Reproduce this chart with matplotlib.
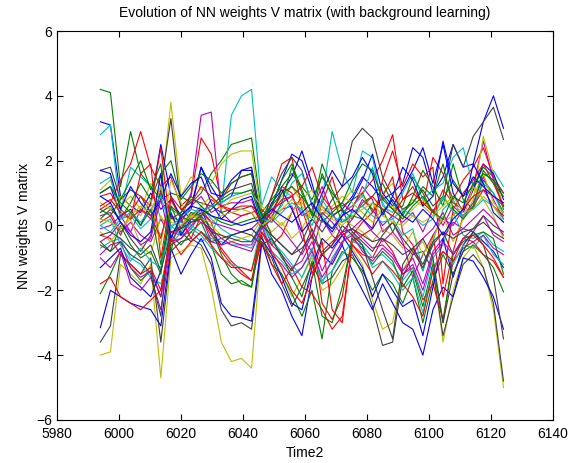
import matplotlib
matplotlib.use('Agg')
import matplotlib.pyplot as plt

plt.rcParams['font.family'] = ['Liberation Sans', 'DejaVu Sans']

time2 = [5994, 5997.25, 6000.5, 6003.75, 6007, 6010.25, 6013.5, 6016.75, 6020, 6023.25,
         6026.5, 6029.75, 6033, 6036.25, 6039.5, 6042.75, 6046, 6049.25, 6052.5, 6055.75,
         6059, 6062.25, 6065.5, 6068.75, 6072, 6075.25, 6078.5, 6081.75, 6085, 6088.25,
         6091.5, 6094.75, 6098, 6101.25, 6104.5, 6107.75, 6111, 6114.25, 6117.5, 6120.75,
         6124]

# weights, one list per V matrix entry
v01 = [3.2, 3.1, 0.9, 0.6, 0.4, 1.0, 0.5, 0.8, 0.3, 0.6, 1.8, 1.2, 0.7, 0.9, 1.7, 1.8, 0.2, 0.6, 1.4, 2.2,
       2.0, 1.1, 0.6, 0.3, 0.5, 0.9, 1.5, 1.2, 0.8, 1.0, 1.3, 2.4, 2.1, 1.0, 1.5, 2.5, 1.8, 1.9, 3.2, 4.0, 3.0]
v02 = [4.2, 4.1, 1.2, 2.9, 1.6, 1.2, 0.8, 1.0, 0.9, 0.7, 1.0, 1.6, 2.0, 2.5, 2.6, 2.7, 0.4, 0.8, 1.2, 1.6,
       1.2, 0.8, 1.5, 1.0, 0.6, 0.8, 1.0, 0.4, 0.9, 0.5, 0.6, 1.5, 1.0, 0.4, 0.8, 1.4, 0.9, 1.2, 1.8, 1.5, 0.5]
v03 = [0.5, 0.7, 1.4, 1.9, 2.9, 1.8, 1.2, 1.5, 0.6, 0.9, 2.7, 2.2, 0.8, 1.3, 1.5, 1.6, 0.0, 0.9, 1.9, 2.1,
       0.5, -0.4, 0.7, 1.5, 0.4, 0.6, 1.0, 1.4, 2.0, 2.8, 0.8, 1.2, 0.6, 2.1, 1.6, 0.8, 1.4, 1.8, 2.4, 1.5, 1.0]
v04 = [2.8, 3.1, 0.4, 1.8, 1.5, 1.2, 0.2, 0.0, -0.3, -0.2, -0.5, -0.3, 0.5, 3.4, 4.0, 4.2, 0.6, 1.5, 1.1, 0.9,
       0.4, 0.2, 0.8, 2.9, 1.7, 1.0, 2.3, 2.1, 0.6, 0.4, 1.0, 1.6, 0.8, 1.1, 1.3, 2.1, 2.4, 1.2, 1.5, 1.7, 1.2]
v05 = [0.3, 0.4, -0.2, 0.1, -0.3, -0.5, 0.2, -0.4, 0.2, 1.0, 3.4, 3.5, 0.4, 0.1, 0.3, 0.4, -0.1, 0.2, 0.5, 0.6,
       -0.4, -0.8, 0.2, -0.3, -0.6, 0.5, 1.2, 0.8, -0.2, 0.1, -0.5, -1.6, -0.9, -0.3, 0.2, 0.0, 0.5, 1.2, 2.6, 1.4, 0.6]
v06 = [-4.0, -3.9, -1.2, -1.5, -1.8, -1.2, -4.7, -1.0, -0.8, -0.6, -0.7, -1.9, -3.6, -4.2, -4.1, -4.4, -0.5, -0.9, -1.5, -2.2,
       -1.6, -1.0, -2.0, -1.8, -1.3, -0.7, -1.2, -2.3, -3.2, -3.0, -1.4, -0.8, -0.5, -1.2, -3.6, -2.0, -1.0, -0.6, -1.3, -2.6, -5.0]
v07 = [-3.6, -3.1, -0.9, -1.2, -1.5, -1.0, -3.6, -0.8, -0.5, -0.4, -0.6, -1.2, -2.6, -3.1, -3.0, -3.2, -0.6, -1.0, -1.8, -2.5,
       -1.9, -1.2, -1.8, -1.6, -1.1, -0.9, -1.5, -2.5, -3.7, -3.6, -1.6, -0.9, -0.8, -1.4, -3.4, -2.2, -1.2, -0.9, -1.3, -2.4, -4.8]
v08 = [-3.15, -2.0, -2.2, -2.4, -2.5, -2.6, -3.1, -0.7, -1.5, -0.9, -0.4, -1.0, -2.4, -2.8, -2.85, -2.95, -0.5, -1.5, -2.0, -2.8,
       -3.4, -1.6, -0.9, -1.2, -0.6, -1.4, -2.0, -2.6, -1.8, -2.4, -3.0, -3.2, -4.0, -2.6, -1.9, -2.2, -1.0, -1.1, -1.6, -2.2, -3.2]
v09 = [-2.1, -1.5, -0.8, -1.3, -1.7, -1.4, -2.2, -0.3, -0.6, -0.2, 0.1, -0.6, -1.5, -1.8, -1.7, -1.9, -0.3, -1.2, -1.5, -2.1,
       -2.8, -2.0, -3.5, -1.4, -0.8, -1.0, -1.4, -2.0, -1.5, -1.8, -2.4, -1.6, -3.0, -1.7, -0.9, -1.5, -0.8, -0.6, -0.9, -1.3, -2.05]
v10 = [-0.3, -0.4, -0.9, -1.2, -1.5, -1.3, -2.0, -0.2, -0.3, 0.1, 0.2, -0.3, -0.7, -1.1, -1.4, -1.7, -0.5, -1.2, -1.8, -1.3,
       -1.9, -2.1, -2.6, -3.2, -2.8, -0.6, -0.9, -1.0, -0.4, -0.8, -1.5, -1.3, -2.3, -1.8, -2.9, -1.1, -0.7, -0.5, -0.9, -1.1, -1.6]
v11 = [-0.7, -0.5, -0.4, -1.0, -1.2, -1.6, -1.8, -0.6, -0.2, 0.3, 0.6, 0.2, -0.1, -0.3, -0.4, -0.5, 0.1, -0.8, -1.1, -1.5,
       -1.3, -0.7, -1.8, -1.0, -0.5, -0.2, -0.6, -1.0, -0.9, -1.2, -1.7, -1.3, -2.2, -1.0, -0.6, 0.4, -0.3, -0.4, -0.2, -0.6, -0.8]
v12 = [-0.9, -0.6, -0.5, -1.3, -1.6, -1.4, -2.2, -0.5, -0.4, -0.1, 0.4, 0.1, 0.0, -0.1, -0.2, -0.1, 0.2, -0.6, -0.9, -1.3,
       -1.1, -0.5, -1.4, -0.8, -0.3, -0.1, -0.4, -0.7, -0.6, -0.9, -1.4, -1.0, -1.8, -0.8, -0.4, 0.1, -0.1, -0.2, 0.3, -0.3, -0.5]
v13 = [1.1, 1.4, 0.6, 0.9, 0.5, 1.3, 0.9, 3.8, 0.9, 1.5, 1.1, 1.3, 1.9, 2.2, 2.3, 2.3, 0.3, 0.5, 0.9, 1.2,
       0.7, 0.3, 0.6, 0.2, 0.7, 1.1, 0.9, 0.5, 1.0, 1.3, 0.4, 0.8, 0.6, 0.3, 0.9, 0.5, 0.2, 0.8, 2.75, 1.6, 0.6]
v14 = [1.7, 1.8, 0.8, 1.1, 0.9, 0.4, 1.2, 3.3, 0.5, 0.2, 0.4, 0.6, 0.9, 1.1, 1.2, 1.3, 0.1, 0.9, 1.6, 2.1,
       1.7, 0.6, 0.3, 0.8, 1.2, 2.6, 3.0, 2.7, 1.5, 0.9, 0.5, 0.7, 1.1, 0.6, 0.9, 2.5, 1.8, 2.75, 3.2, 3.65, 2.65]
v15 = [1.0, 1.2, 0.3, 0.5, 0.0, 0.7, 2.5, 0.9, 0.2, 0.5, 1.8, 1.0, 0.9, 1.4, 1.7, 1.7, 0.0, 0.4, 1.0, 1.5,
       2.3, 1.3, 0.2, -0.2, 0.3, 0.8, 1.4, 2.2, 1.0, 0.6, 1.1, 1.7, 2.4, 1.3, 2.5, 1.0, 0.4, 1.1, 1.9, 1.6, 0.8]
v16 = [0.2, 0.5, 0.2, 0.7, 1.3, 0.8, 1.6, 2.0, 0.8, 1.2, 1.6, 1.4, 1.0, 1.3, 1.5, 1.6, 0.3, 0.1, 0.7, 1.8,
       1.0, 0.4, 1.9, 1.1, 0.5, 0.2, 0.7, 0.9, 1.3, 0.7, 0.3, 0.9, 1.7, 1.2, 0.6, 1.9, 0.8, 0.5, 1.4, 1.0, 0.4]
v17 = [0.1, 0.3, -0.3, 0.4, 0.9, 0.6, 2.4, -0.2, -0.1, 0.3, 0.5, 0.1, -0.8, -1.2, -1.5, -1.7, -0.2, -0.6, -0.3, 0.4,
       0.9, -0.2, -2.4, -2.9, -2.2, -0.3, 0.1, 0.4, 0.9, 1.5, -0.2, -0.6, -1.4, -0.3, -2.2, -0.8, 0.3, 0.6, 1.1, 0.9, 0.6]
v18 = [1.3, 1.5, 0.2, 0.3, -0.1, 0.2, -0.3, 0.5, 0.3, 0.0, -0.2, -0.4, -0.5, -0.6, -0.6, -0.7, -0.1, 0.3, 0.6, 1.3,
       1.6, 0.7, 0.3, -0.1, 0.4, 0.6, 0.9, 1.8, 0.7, 0.2, -0.3, -0.1, -1.4, -0.5, 0.5, 0.8, 0.2, 0.6, 1.3, 1.0, 0.3]
v19 = [-0.1, 0.0, 0.3, -0.2, 0.5, 0.2, 1.0, 0.3, 0.1, 0.6, 0.9, 0.4, 0.6, 0.7, 0.7, 0.8, 0.0, 0.5, 0.7, 0.9,
       0.3, 0.5, 1.2, 0.4, -0.2, 0.2, 0.8, 0.5, 0.0, 0.3, 0.1, 0.4, -0.2, 0.5, 0.0, 0.6, 0.3, 0.7, 1.5, 0.8, 0.2]
v20 = [-0.2, -0.5, -0.1, 0.2, -0.6, -0.9, 0.3, -0.3, 0.0, 0.4, 0.2, 0.0, -0.3, -0.5, -0.4, -0.3, 0.2, -0.2, 0.1, -0.4,
       -0.1, 0.5, -0.6, -0.3, 0.2, 0.0, -0.2, -0.5, -0.1, -0.3, -0.7, -0.2, -0.9, -0.4, 0.3, -0.5, 0.2, 1.2, 0.8, 0.3, -0.4]
v21 = [0.4, 0.6, 0.1, -0.4, -0.8, -0.3, 1.1, 0.2, 0.4, 0.8, 0.7, 0.6, 0.4, 0.5, 0.5, 0.6, 0.4, -0.3, -0.6, -0.9,
       -0.5, 0.2, -0.2, 0.3, 0.5, -0.2, -0.5, -0.8, -0.3, 0.1, -0.4, -0.8, -1.3, -0.6, -0.2, -0.9, -0.4, -0.1, 0.3, 0.0, -0.2]
v22 = [-1.3, -1.0, -0.7, -1.6, -1.9, -2.2, -1.4, 0.4, -0.3, 0.2, 0.5, -0.2, -0.6, -0.3, -0.2, -0.1, -0.4, -0.9, -1.6, -2.4,
       -2.6, -1.3, -0.4, -0.7, -0.3, -0.8, -1.3, -2.2, -1.5, -2.0, -2.5, -2.3, -3.4, -1.9, -0.4, -1.6, -0.6, -0.2, -0.5, -0.8, -1.3]
v23 = [-0.5, -0.8, 0.0, -0.6, -1.0, -0.8, -1.5, 0.6, -0.1, 0.4, 0.3, -0.1, -0.9, -1.5, -1.8, -1.9, 0.2, -0.4, -0.9, -1.6,
       -2.2, -1.1, -2.8, -3.0, -1.9, -0.4, -0.7, -1.2, -0.8, -1.1, -1.9, -1.4, -2.5, -1.2, -3.0, -0.9, -0.5, -0.3, -0.2, -0.4, -1.5]
v24 = [0.9, 1.0, 0.5, 0.2, 1.6, 1.9, -1.0, 0.8, 0.2, -0.4, 0.3, 0.8, 0.6, 0.4, 0.3, 0.4, 0.5, 0.2, 1.2, 1.0,
       -0.1, -1.5, -0.5, -2.6, -3.0, -0.5, -0.3, -0.1, 1.4, 2.3, 1.2, 1.9, 1.5, 1.8, -1.8, 0.5, 1.0, 1.4, 1.9, 1.3, 0.6]
v25 = [0.0, 0.2, -0.6, -1.1, -0.7, -1.1, -1.3, 0.0, 0.1, -0.1, -0.3, -0.7, -1.0, -1.2, -1.3, -1.4, 0.1, -0.5, -0.8, -1.2,
       -1.6, -0.9, -1.7, -1.4, -0.9, -0.5, -0.6, -1.3, -1.1, -1.5, -2.0, -1.6, -2.7, -1.3, -0.8, -1.2, -0.6, -0.7, -0.3, -0.9, -1.2]
v26 = [-1.0, -1.3, -0.8, -1.8, -2.0, -1.6, -2.6, -0.6, -0.4, 0.0, 0.3, -0.5, -0.6, -0.5, -0.6, -0.6, 0.0, -0.9, -1.2, -1.6,
       -1.3, -0.8, -1.6, -1.1, -0.5, -0.3, -0.8, -1.1, -0.7, -1.0, -1.5, -1.2, -2.0, -0.9, -0.5, -0.9, -0.4, -0.5, -0.3, -0.7, -0.9]
v27 = [0.7, 0.5, 0.9, 0.6, 0.3, 0.8, -0.6, 1.4, 0.7, 0.2, 0.6, 0.9, 0.5, 0.8, 0.9, 1.0, 0.6, 0.3, 0.0, 0.4,
       0.8, 1.1, 0.3, 0.6, 0.9, 0.7, 0.4, 0.1, 0.5, 0.6, 0.2, 0.5, 0.8, 0.4, 0.1, 0.3, 0.6, 0.9, 1.6, 0.7, 0.4]
v28 = [-0.6, -0.8, -0.5, -0.9, -1.1, -1.5, -2.8, 0.3, -0.2, -0.5, -0.2, -0.5, -0.4, -0.3, -0.2, -0.3, -0.6, -0.4, -1.0, -1.4,
       -0.8, -0.1, -0.9, -0.6, 0.0, -0.3, -0.6, -1.6, -2.6, -3.5, -1.2, -0.7, -0.4, -1.0, -3.0, -1.5, -0.8, -0.2, -0.6, -1.6, -3.5]
v29 = [1.7, 1.6, 0.5, 1.2, 0.7, 0.3, 0.8, 1.6, 0.9, 1.3, 1.5, 0.7, 0.2, 0.5, 0.8, 0.9, 0.0, 0.7, 1.1, 0.5,
       -0.2, 0.2, 1.0, 1.7, 1.2, 1.5, 2.1, 1.6, 0.3, 0.9, 1.8, 1.4, 0.6, 0.9, 2.6, 1.3, 0.9, 1.5, 1.2, 0.9, 0.7]
v30 = [0.5, 0.3, 0.8, 1.4, 2.0, 1.1, 1.9, -0.8, 0.4, 0.9, 0.6, 0.3, 0.1, 0.0, 0.1, 0.2, 0.3, 0.6, 1.4, 1.9,
       1.1, 0.3, 1.6, 0.9, 0.1, 0.3, 0.2, 0.7, 0.5, -0.2, 0.4, 0.7, 1.2, 0.9, 1.9, 0.5, 0.2, 0.6, 1.7, 1.3, 0.9]
v31 = [0.6, 0.8, 0.4, 0.2, 0.5, 0.3, -0.4, 0.9, 0.5, 0.7, 1.2, 0.9, 0.6, 0.5, 0.6, 0.6, 0.1, 0.4, 0.8, 0.9,
       1.2, 1.8, 0.9, 0.5, 0.7, 0.4, 0.6, 0.9, 0.5, 0.3, 0.8, 1.0, 0.7, 0.4, 1.1, 0.7, 0.5, 0.9, 1.1, 0.6, 0.3]
v32 = [0.0, -0.2, 0.2, 0.4, 0.1, 0.5, 0.9, -0.1, 0.3, 0.5, 0.4, 0.6, 0.7, 0.9, 1.0, 1.1, 0.2, 0.1, 0.4, 0.7,
       0.5, 0.0, 0.8, 0.3, 0.1, 0.4, 0.6, 0.3, 0.1, 0.2, 0.5, 0.3, 0.0, 0.2, 0.9, 0.4, 0.3, 0.5, 0.8, 0.6, 0.2]
v33 = [-0.5, -0.3, 0.1, -0.2, -0.6, -0.4, 0.8, -0.5, 0.0, 0.2, 0.1, -0.1, -0.4, -0.6, -0.7, -0.8, -0.1, 0.2, -0.1, -0.5,
       -0.9, -0.3, 0.4, 0.1, -0.3, -0.1, 0.2, -0.2, -0.5, -0.2, -0.6, -0.9, -0.4, -0.1, 0.4, -0.3, -0.1, 0.2, 0.5, 0.2, -0.3]
v34 = [0.2, 0.1, -0.1, 0.3, 0.6, 0.4, 1.2, 0.1, 0.0, 0.3, 0.2, 0.1, 0.3, 0.4, 0.5, 0.4, 0.0, 0.2, 0.5, 0.8,
       0.6, 0.2, 0.5, 0.2, 0.0, 0.3, 0.5, 0.7, 0.3, 0.1, 0.0, 0.3, 0.1, 0.3, 0.6, 0.9, 0.4, 0.5, 0.9, 0.6, 0.1]
v35 = [-0.3, -0.2, -0.4, -0.7, -0.9, -0.6, -1.4, -0.2, -0.1, 0.1, 0.2, -0.2, -0.3, -0.4, -0.5, -0.5, 0.0, -0.3, -0.6, -0.9,
       -0.7, -0.3, -0.9, -0.6, -0.2, -0.1, -0.3, -0.5, -0.4, -0.6, -0.9, -0.7, -1.2, -0.5, -0.2, -0.4, -0.2, -0.1, 0.1, -0.2, -0.4]
v36 = [0.9, 0.7, 0.1, -0.3, -0.5, -0.2, 1.6, -0.4, 0.3, 0.6, 0.5, 0.3, 0.2, 0.1, 0.0, 0.1, 0.2, 0.5, 0.3, 0.1,
       0.4, 0.7, 0.2, -0.1, 0.3, 0.5, 0.2, -0.1, 0.4, 0.8, 0.3, 0.1, 0.5, 0.2, -0.3, 0.2, 0.5, 1.9, 1.3, 0.4, 0.1]
v37 = [1.0, 1.2, 0.7, 0.4, 0.0, 0.5, -1.2, 0.6, 0.3, 0.1, 0.3, 0.5, 0.8, 1.0, 1.0, 1.1, 0.1, 0.6, 1.0, 1.2,
       0.9, 0.4, 0.1, 0.4, 0.7, 1.4, 1.9, 1.7, 0.8, 0.5, 0.2, 0.6, 0.9, 0.4, 0.2, 0.9, 0.7, 1.3, 1.6, 1.4, 1.0]
v38 = [-1.8, -1.6, -2.2, -2.4, -2.6, -2.3, -2.0, -0.4, -0.9, -0.5, -0.2, -0.6, -1.0, -1.3, -1.3, -1.4, -0.2, -0.8, -1.3, -2.0,
       -2.4, -1.6, -0.8, -0.5, -0.2, -0.6, -1.0, -1.5, -1.1, -1.4, -1.8, -2.2, -2.8, -1.4, -0.8, -1.1, -0.4, -0.3, -0.6, -1.0, -1.6]

weights = [v01, v02, v03, v04, v05, v06, v07, v08, v09, v10,
           v11, v12, v13, v14, v15, v16, v17, v18, v19, v20,
           v21, v22, v23, v24, v25, v26, v27, v28, v29, v30,
           v31, v32, v33, v34, v35, v36, v37, v38]

# old matlab colour order
colors = ['#0000ff', '#008000', '#ff0000', '#00bfbf', '#bf00bf', '#bfbf00', '#404040']

fig = plt.figure(figsize=(5.81, 4.63), dpi=100)
ax = fig.add_axes([0.098, 0.093, 0.854, 0.840])

for i, w in enumerate(weights):
    ax.plot(time2, w, color=colors[i % len(colors)], linewidth=0.8)

ax.set_xlim(5980, 6140)
ax.set_ylim(-6, 6)
ax.set_xticks(range(5980, 6141, 20))
ax.set_yticks(range(-6, 7, 2))
ax.tick_params(direction='in', top=True, right=True, length=4, labelsize=10)
ax.tick_params(axis='x', pad=5)
for s in ax.spines.values():
    s.set_linewidth(0.8)

ax.set_xlabel('Time2', fontsize=10, labelpad=4)
ax.set_ylabel('NN weights V matrix', fontsize=10)
ax.set_title('Evolution of NN weights V matrix (with background learning)', fontsize=10, pad=10)

fig.savefig('out.png', dpi=100)
